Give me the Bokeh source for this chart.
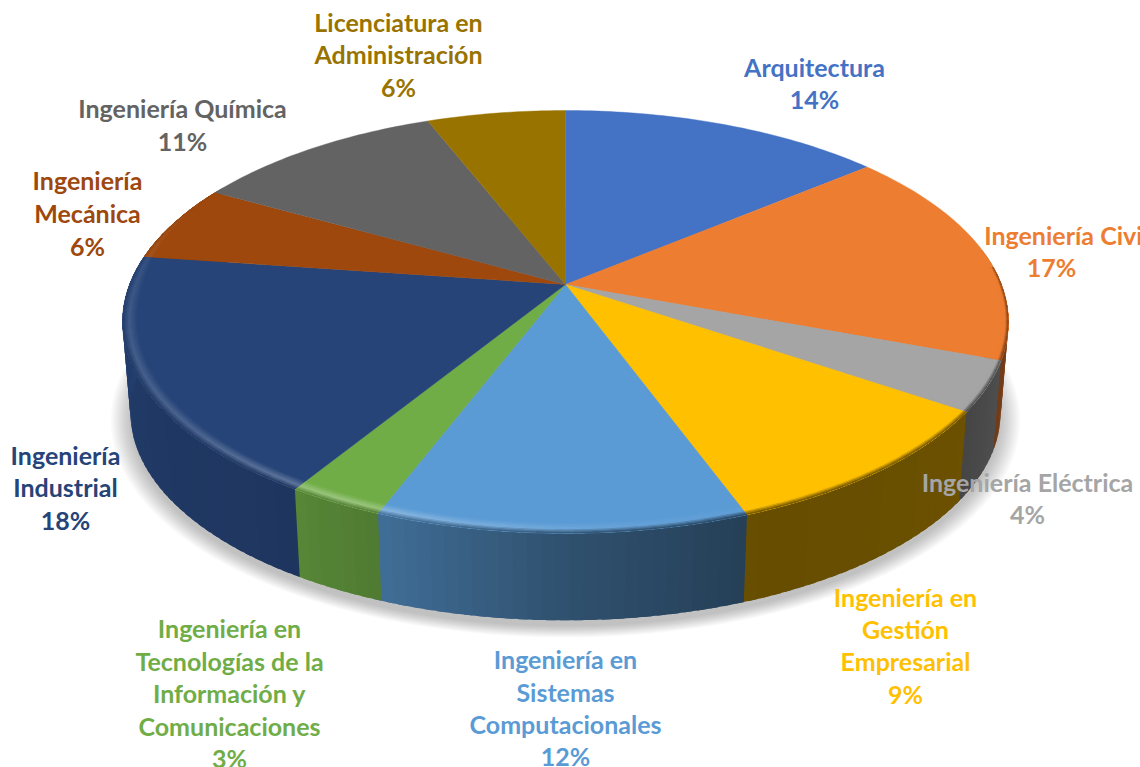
import numpy as np
from bokeh.embed import file_html
from bokeh.models import ColumnDataSource, Range1d
from bokeh.plotting import figure
from bokeh.resources import INLINE
from bokeh.core.properties import value

# ---------- data ----------
categories = ["Arquitectura", "Ingeniería Civil", "Ingeniería Eléctrica",
              "Ingeniería en Gestión Empresarial", "Ingeniería en Sistemas Computacionales",
              "Ingeniería en Tecnologías de la Información y Comunicaciones",
              "Ingeniería Industrial", "Ingeniería Mecánica", "Ingeniería Química",
              "Licenciatura en Administración"]
percent_labels = [14, 17, 4, 9, 12, 3, 18, 6, 11, 6]
slice_shares = [14.0, 16.7, 3.8, 9.9, 11.5, 3.0, 18.4, 5.9, 10.9, 6.0]
slice_colors = ["#4472C4", "#ED7D31", "#A5A5A5", "#FFC000", "#5B9BD5",
                "#70AD47", "#264478", "#9E480E", "#636363", "#997300"]

# ---------- label layout: text lines and their centres ----------
label_lines = [
    [("Arquitectura", 814, 66), ("{}", 814, 98)],
    [("Ingeniería Civil", 1066, 234), ("{}", 1051, 266)],
    [("Ingeniería Eléctrica", 1027, 481), ("{}", 1027, 513)],
    [("Ingeniería en", 905, 596), ("Gestión", 905, 628), ("Empresarial", 905, 660), ("{}", 905, 693)],
    [("Ingeniería en", 565, 658), ("Sistemas", 565, 691), ("Computacionales", 565, 723), ("{}", 565, 755)],
    [("Ingeniería en", 229, 627), ("Tecnologías de la", 229, 660), ("Información y", 229, 692),
     ("Comunicaciones", 229, 725), ("{}", 229, 757)],
    [("Ingeniería", 65, 454), ("Industrial", 65, 486), ("{}", 65, 519)],
    [("Ingeniería", 87, 179), ("Mecánica", 87, 212), ("{}", 87, 245)],
    [("Ingeniería Química", 182, 107), ("{}", 182, 140)],
    [("Licenciatura en", 398, 21), ("Administración", 398, 53), ("{}", 398, 86)],
]

# ---------- projection of the pie disc ----------
CX, CY, A, B, K = 565.0, 284.0, 436.0, 204.8, 0.177
SIDE_SCALE, BOTTOM_CY = 0.982, 375.5


def top_point(r, t):
    x, y = r * np.sin(t), r * np.cos(t)
    w = 1 + K * y
    return CX + A * x / w, CY - B * y / w


def bottom_point(r, t):
    x, y = top_point(r, t)
    return CX + SIDE_SCALE * (x - CX), BOTTOM_CY + SIDE_SCALE * (y - CY)


def rgb(h):
    return np.array([int(h[i:i + 2], 16) for i in (1, 3, 5)], float)


def tohex(c):
    c = np.clip(np.round(c), 0, 255).astype(int)
    return "#%02x%02x%02x" % tuple(c)


def side_shade(deg):
    return float(np.interp(deg, [90, 125, 158, 180, 200, 215, 250, 280],
                           [.55, .42, .40, .52, .70, .80, .85, .95]))


def rim_width(deg):
    return float(np.interp(deg, [85, 125, 160, 200, 270, 300], [.012, .022, .035, .035, .032, 0.0]))


def rim_light(deg):
    return float(np.interp(deg, [150, 175, 205, 230, 270, 300], [0, .08, .30, .18, .10, 0]))


p = figure(width=1140, height=767, x_range=Range1d(0, 1140), y_range=Range1d(767, 0),
           output_backend="svg", toolbar_location=None, min_border=0)
p.axis.visible = False
p.grid.visible = False
p.outline_line_color = None
p.background_fill_color = "#ffffff"
p.border_fill_color = "#ffffff"

ts = np.radians(np.arange(0, 360.5, 1.5))

# soft shadow under the pie
for f in np.linspace(1.045, 1.0, 11):
    xs, ys = [], []
    for t in ts:
        x, y = bottom_point(1.0, t)
        xs.append(CX + (x - CX) * f)
        ys.append(BOTTOM_CY + 6 + (y - BOTTOM_CY) * f)
    p.patch(xs, ys, fill_color="#000000", fill_alpha=0.022, line_color=None)

edges = np.concatenate([[0], np.cumsum(slice_shares)])
edges = edges / edges[-1] * 360.0

# side wall: overlapping strips drawn in order, so that no seams show
qx, qy, qc = [], [], []
for i, col in enumerate(slice_colors):
    base = rgb(col)
    lo, hi = max(edges[i], 80.0), min(edges[i + 1], 300.0)
    if hi <= lo:
        continue
    n = max(1, int((hi - lo) / 1.5))
    d = np.linspace(lo, hi, n + 1)
    for a, b in zip(d[:-1], d[1:]):
        ta, tb = np.radians(a), np.radians(b + 1.0)
        p1, p2, p3, p4 = top_point(1, ta), top_point(1, tb), bottom_point(1, tb), bottom_point(1, ta)
        qx.append([p1[0], p2[0], p3[0], p4[0]])
        qy.append([p1[1], p2[1], p3[1], p4[1]])
        qc.append(tohex(base * side_shade((a + b) / 2)))
p.patches(qx, qy, fill_color=qc, line_color=None)

# top face wedges
wx, wy, wc = [], [], []
for i, col in enumerate(slice_colors):
    d = np.radians(np.arange(edges[i], edges[i + 1], 1.0).tolist() + [edges[i + 1]])
    pts = [top_point(1, t) for t in d]
    wx.append([CX] + [q[0] for q in pts])
    wy.append([CY] + [q[1] for q in pts])
    wc.append(col)
p.patches(wx, wy, fill_color=wc, line_color=wc, line_width=0.4)

# bevel along the front rim of the top face: rings drawn from the inside out,
# each covering everything outside it, so that no seams show
rings = np.linspace(0, 1, 9)
rx, ry, rc = [], [], []
for u0 in rings[:-1]:
    u = u0 + (rings[1] - rings[0]) / 2
    for i, col in enumerate(slice_colors):
        base = rgb(col)
        lo, hi = max(edges[i], 85.0), min(edges[i + 1], 300.0)
        if hi <= lo:
            continue
        n = max(1, int((hi - lo) / 2.0))
        d = np.linspace(lo, hi, n + 1)
        for a, b in zip(d[:-1], d[1:]):
            m = (a + b) / 2
            ta, tb = np.radians(a), np.radians(min(b + 0.8, hi))
            wa, wb = rim_width(a), rim_width(min(b + 0.8, hi))
            side = base * side_shade(m)
            hl = base + (np.array([255., 255., 255.]) - base) * rim_light(m)
            if u < 0.55:
                c = base + (hl - base) * (u / 0.55)
            else:
                c = hl + (side - hl) * ((u - 0.55) / 0.45)
            q = [top_point(1 - wa * (1 - u0), ta), top_point(1 - wb * (1 - u0), tb),
                 top_point(1, tb), top_point(1, ta)]
            rx.append([v[0] for v in q])
            ry.append([v[1] for v in q])
            rc.append(tohex(c))
p.patches(rx, ry, fill_color=rc, line_color=None)

# labels
tx, ty, tt, tc = [], [], [], []
for lines, pct, col in zip(label_lines, percent_labels, slice_colors):
    for txt, x, y in lines:
        tx.append(x)
        ty.append(y)
        tt.append(f"{pct}%" if txt == "{}" else txt)
        tc.append(col)
src = ColumnDataSource(dict(x=tx, y=ty, text=tt, color=tc))
p.text("x", "y", text="text", source=src, text_color="color", text_align="center",
       text_baseline="middle", text_font=value("Lato"), text_font_style="bold",
       text_font_size="25px")

open("out.html", "w").write(file_html(p, INLINE))
